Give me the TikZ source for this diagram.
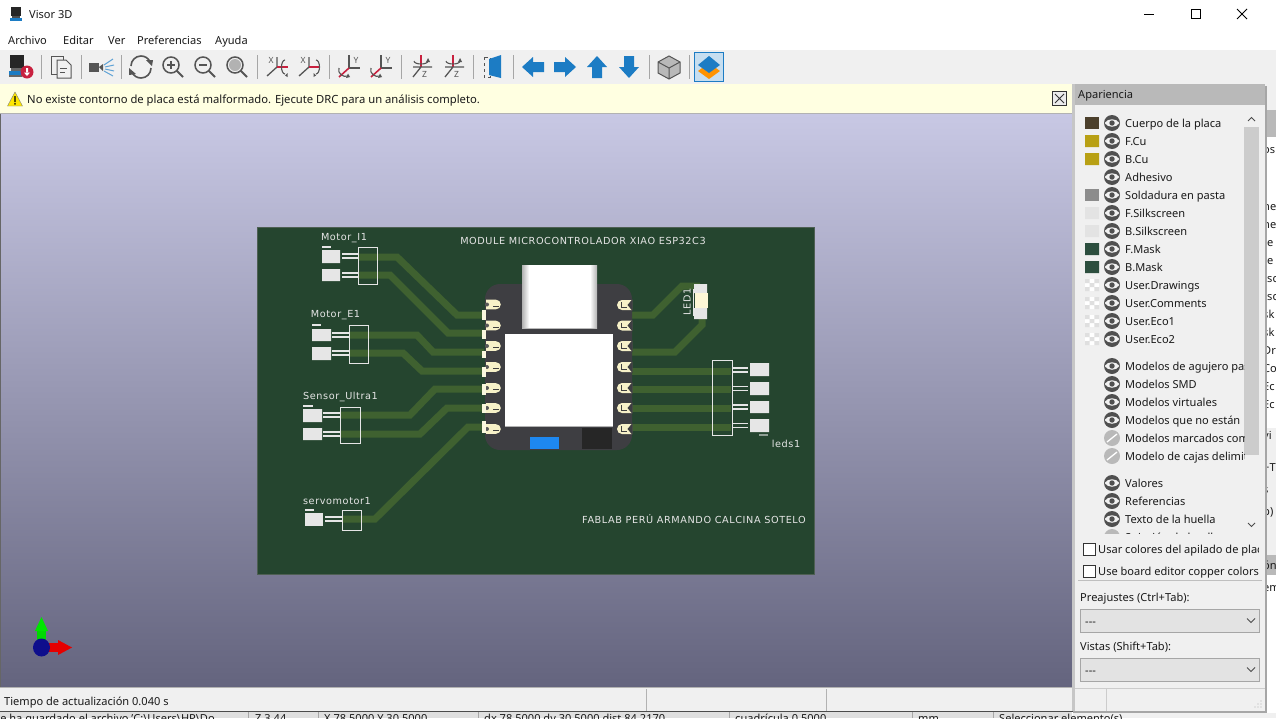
\documentclass[tikz,border=0pt]{standalone}
\usepackage{fontspec}
\setmainfont{Noto Sans}
\newfontfamily\silkfont[LetterSpace=6]{DejaVu Sans}
\usetikzlibrary{calc}
\definecolor{barbg}{HTML}{F0F0F0}
\definecolor{infobg}{HTML}{FFFFE1}
\definecolor{uitext}{HTML}{1A1A1A}
\definecolor{board}{HTML}{25452F}
\definecolor{trace}{HTML}{3F6130}
\definecolor{silk}{HTML}{E6E6E6}
\definecolor{module}{HTML}{3E3E42}
\definecolor{padc}{HTML}{F7F1C8}
\definecolor{iconblue}{HTML}{1C7CC4}
\definecolor{icongray}{HTML}{555555}
\definecolor{iconred}{HTML}{C8213F}
\definecolor{eyec}{HTML}{505050}
\definecolor{hdr}{HTML}{B9B9B9}
\definecolor{skytop}{RGB}{200,200,228}
\definecolor{skybot}{RGB}{100,100,126}
\definecolor{chipblue}{RGB}{30,136,240}
\definecolor{ledbody}{RGB}{253,247,214}
\definecolor{axisblue}{RGB}{14,14,140}
\definecolor{swbody}{RGB}{76,64,44}
\definecolor{swcu}{RGB}{184,160,20}
\definecolor{swmask}{RGB}{44,78,62}
\tikzset{
  ui/.style={anchor=west,inner sep=0pt,font=\fontsize{11.05}{12}\selectfont,text=uitext,text height=9.5pt,text depth=1.5pt},
  silktext/.style={inner sep=0pt,text=silk,font=\silkfont\fontsize{9.7}{10}\selectfont},
  icontext/.style={inner sep=0pt,font=\fontsize{8.5}{9}\selectfont,text=icongray},
  tr/.style={draw=trace,line width=7pt,line join=miter},
  silkline/.style={draw=silk,line width=1.1pt},
  silkpad/.style={fill=silk},
  sep/.style={draw=gray!70,line width=.7pt},
  bluearrow/.style={fill=iconblue},
  axisline/.style={draw=icongray,line width=1.3pt},
  redline/.style={draw=iconred,line width=1.6pt},
  rotline/.style={draw=icongray,line width=1.1pt},
}
% eye icon
\newcommand{\eyeicon}[1]{%
  \fill[eyec] (1112,#1) circle (8);
  \fill[barbg!90!white] (1104.5,#1) .. controls (1108,{#1-5}) and (1116,{#1-5}) .. (1119.5,#1) .. controls (1116,{#1+5}) and (1108,{#1+5}) .. (1104.5,#1) -- cycle;
  \fill[eyec] (1112,#1) circle (2.7);
}
\newcommand{\eyeoff}[1]{%
  \fill[gray!55] (1112,#1) circle (8);
  \draw[white,line width=1.3pt] (1107,{#1+4}) -- (1117,{#1-4});
}
\newcommand{\checker}[1]{%
  \fill[white] (1085,{#1-6}) rectangle (1099,{#1+6});
  \fill[gray!25] (1085,{#1-6}) rectangle +(4.7,4) (1094.4,{#1-6}) rectangle +(4.6,4) (1089.7,{#1-2}) rectangle +(4.7,4) (1085,{#1+2}) rectangle +(4.7,4) (1094.4,{#1+2}) rectangle +(4.6,4);
}
\newcommand{\lpad}[3]{% y, bar top, bar bottom
  \fill[padc] (486,{#1-4.8}) -- (496,{#1-4.8}) arc (-90:90:4.8) -- (486,{#1+4.8}) -- cycle;
  \fill[black!65] (487,#1) circle (2);
  \draw[black!75,line width=.9pt] (493,{#1+1.7}) -- (498.5,{#1+1.7});
  \fill[padc!60!white] (482,#2) rectangle (485.5,#3);
}
\newcommand{\rpad}[1]{%
  \fill[padc] (632,{#1-5}) -- (622,{#1-5}) arc (-90:-270:5) -- (632,{#1+5}) -- cycle;
  \draw[black!75,line width=1pt] (621.5,{#1-3}) -- (621.5,{#1+2}) -- (627,{#1+2});
  \fill[module] (632.5,{#1-6}) -- (627.5,#1) -- (632.5,{#1+6}) -- cycle;
}
\newcommand{\roticon}[2]{%
  \begin{scope}[shift={(#1,67)}]
    \draw[axisline] (0,-10) -- (0,0) -- (-10,9);
    \node[icontext] at (-6,-7) {X};
    \draw[redline] (0,0) -- (11,0);
    \ifnum#2=0
      \draw[rotline] (8,-7) arc (-90:-270:3.5 and 7);
      \fill[icongray] (8,8.5) -- (10.5,6) -- (10.5,10) -- cycle;
    \else
      \draw[rotline] (7,-7) arc (-90:90:3.5 and 7);
      \fill[icongray] (7,8.5) -- (4.5,6) -- (4.5,10) -- cycle;
    \fi
  \end{scope}
}
\newcommand{\roticonY}[1]{%
  \begin{scope}[shift={(#1,67)}]
    \draw[axisline] (0,-12) -- (0,1) -- (11,1);
    \node[icontext] at (7,-6.5) {Y};
    \draw[redline] (0,1) -- (-10,10);
    \draw[rotline] (-10,1) .. controls (-12,6) and (-6,11) .. (-1,9);
    \fill[icongray] (-1,6.5) -- (1,10) -- (-3,11) -- cycle;
  \end{scope}
}
\newcommand{\roticonZ}[1]{%
  \begin{scope}[shift={(#1,67)}]
    \draw[redline] (0,-12) -- (0,0);
    \draw[axisline] (-8,0) -- (11,0) (0,0) -- (-8,10);
    \draw[rotline] (-7,-6) arc (180:0:7 and 3);
    \fill[icongray] (7,-9) -- (9,-5) -- (5,-5) -- cycle;
    \node[icontext] at (3.5,7.5) {Z};
  \end{scope}
}
\begin{document}
\begin{tikzpicture}[x=1pt,y=-1pt,line cap=butt]
\useasboundingbox (0,0) rectangle (1276,718);
\fill[white] (0,0) rectangle (1276,718);

% ---- bars
\fill[barbg] (0,50) rectangle (1276,84);
\fill[infobg] (0,84) rectangle (1072,113);
\draw[gray!60,line width=.6pt] (0,113.5) -- (1072,113.5);
\shade[top color=skytop,bottom color=skybot] (1,114) rectangle (1072,687);
\draw[gray!80!black,line width=1pt] (.5,114) -- (.5,687);
\fill[barbg] (0,688) rectangle (1072,711);
\draw[gray!60,line width=.6pt] (0,687.6) -- (1072,687.6);
\draw[gray!60,line width=.6pt] (646,689) -- (646,711) (826,689) -- (826,711);

% ---- title bar
\fill[black!85] (11,7) rectangle (21,16);
\fill[black!70] (12,16) rectangle (20,18);
\fill[iconblue] (10,18) rectangle (22,21);
\node[ui] (title) at (29,14.5) {Visor 3D};
\draw[black,line width=.8pt] (1144,14) -- (1154,14);
\draw[black,line width=.9pt] (1191.5,9.5) rectangle (1200.5,18.5);
\draw[black,line width=.9pt] (1237,9) -- (1247,19) (1247,9) -- (1237,19);

% ---- menu
\node[ui] (mArchivo) at (8,40) {Archivo};
\node[ui] (mEditar) at (63,40) {Editar};
\node[ui] (mVer) at (108,40) {Ver};
\node[ui] (mPref) at (137,40) {Preferencias};
\node[ui] (mAyuda) at (215,40) {Ayuda};

% ---- toolbar separators
\foreach \x in {41,81,121,257,329,401,473,513,649,689} \draw[sep] (\x,55) -- (\x,79);

% toolbar icons
\fill[black!85] (10,55) rectangle (24,68);
\fill[black!60] (11,68) rectangle (23,71);
\fill[iconblue] (9,71) rectangle (22,75);
\fill[black!60] (9,75) rectangle (22,77);
\fill[iconred] (27,72) circle (6.5);
\fill[white] (26,68) rectangle (28,73) (24,72.5) -- (30,72.5) -- (27,76) -- cycle;
% copy
\draw[icongray,line width=1pt,fill=barbg] (51,56) rectangle (63,74);
\draw[icongray,line width=1pt,fill=barbg] (57,60) -- (66,60) -- (71,65) -- (71,78) -- (57,78) -- cycle;
\draw[icongray,line width=1pt] (60,68) -- (67,68) (60,72) -- (65,72);
% camera
\fill[icongray] (89,63) rectangle (99,72);
\fill[icongray] (99,67) -- (103,64) -- (103,71) -- cycle;
\draw[iconblue!70,line width=1pt] (104,65) -- (113,59) (105,67) -- (114,65) (105,69) -- (114,71) (104,71) -- (113,76);
% refresh
\draw[icongray,line width=1.6pt] (131,66) arc (180:330:10);
\draw[icongray,line width=1.6pt] (151,68) arc (0:150:10);
\fill[icongray] (146,60) -- (153,60) -- (152,66) -- cycle;
\fill[icongray] (129,68) -- (136,74) -- (129,75) -- cycle;
% zoom icons
\foreach \cx in {171,203,235} {
  \draw[icongray,line width=1.5pt] (\cx,65) circle (8);
  \draw[icongray,line width=2pt] (\cx+5.5,70.5) -- (\cx+12,77);
}
\draw[icongray,line width=1.3pt] (167,65) -- (175,65) (171,61) -- (171,69);
\draw[icongray,line width=1.3pt] (199,65) -- (207,65);
\fill[gray!60] (235,65) circle (6);
% rotation icons
\roticon{277}{0}
\roticon{309}{1}
\roticonY{349}
\roticonY{381}
\roticonZ{421}
\roticonZ{453}
% flip
\draw[icongray,line width=.9pt,dashed] (484,57) rectangle (490,77);
\fill[iconblue] (489,59) -- (501,55) -- (501,78) -- (489,75) -- cycle;
% arrows
\fill[bluearrow] (522,67) -- (533,57) -- (533,62) -- (544,62) -- (544,72) -- (533,72) -- (533,77) -- cycle;
\fill[bluearrow] (576,67) -- (565,57) -- (565,62) -- (554,62) -- (554,72) -- (565,72) -- (565,77) -- cycle;
\fill[bluearrow] (597,56) -- (607,67) -- (602,67) -- (602,78) -- (592,78) -- (592,67) -- (587,67) -- cycle;
\fill[bluearrow] (629,78) -- (639,67) -- (634,67) -- (634,56) -- (624,56) -- (624,67) -- (619,67) -- cycle;
% cube
\fill[gray!55] (669,56) -- (680,62) -- (680,73) -- (669,79) -- (658,73) -- (658,62) -- cycle;
\draw[icongray,line width=1pt] (669,56) -- (680,62) -- (680,73) -- (669,79) -- (658,73) -- (658,62) -- cycle (658,62) -- (669,68) -- (680,62) (669,68) -- (669,79);
% layers (active)
\draw[iconblue,fill=iconblue!25,line width=1pt] (694.5,52.5) rectangle (723.5,81.5);
\fill[orange!85!yellow] (709,63) -- (720,71) -- (709,79) -- (698,71) -- cycle;
\fill[iconblue] (709,56) -- (720,65) -- (709,73) -- (698,65) -- cycle;

% ---- info bar
\fill[yellow!90!orange] (15,92) -- (22.5,106) -- (7.5,106) -- cycle;
\draw[black!50,line width=.4pt] (15,92) -- (22.5,106) -- (7.5,106) -- cycle;
\fill[black] (14.3,96) rectangle (15.7,102) (14.3,103) rectangle (15.7,104.5);
\node[ui,font=\fontsize{11.25}{12}\selectfont] (warn) at (27,99) {No existe contorno de placa está malformado. Ejecute DRC para un análisis completo.};
\draw[black!80,fill=gray!15,line width=1pt] (1052.5,91.5) rectangle (1066.5,105.5);
\draw[black!80,line width=1pt] (1055,94) -- (1064,103) (1064,94) -- (1055,103);

% ---- board
\fill[board] (257,227) rectangle (814,574.5);
\draw[gray!45!board,line width=.7pt] (257,227) rectangle (814,574.5);

% traces
\draw[tr] (358,257) -- (397,257) -- (457,315) -- (484,315);
\draw[tr] (358,275) -- (390,275) -- (448,333) -- (484,333);
\draw[tr] (349,335) -- (417,335) -- (433,352) -- (484,352);
\draw[tr] (349,353) -- (403,353) -- (422,371) -- (484,371);
\draw[tr] (340,415) -- (410,415) -- (435,389) -- (484,389);
\draw[tr] (340,434) -- (420,434) -- (447,408) -- (484,408);
\draw[tr] (342,519) -- (375,519) -- (468,427) -- (484,427);
\draw[tr] (632,315) -- (653,315) -- (682,286) -- (700,286);
\draw[tr] (632,352) -- (675,352) -- (702,325) -- (702,316);
\foreach \y in {371,389,408,427} \draw[tr] (632,\y) -- (731,\y);

% module
\fill[module,rounded corners=15pt] (485,284) -- (632,284) -- (632,450) -- (485,450) -- cycle;
\lpad{304.5}{310}{320}
\lpad{325.5}{330}{339}
\lpad{346}{351}{358}
\lpad{367}{367}{377}
\lpad{388}{384}{395}
\lpad{408}{404}{413}
\lpad{429}{421}{433}
\foreach \y in {305,325.5,346,367,388,408,429} {\rpad{\y}}
% USB
\fill[white] (522,265) rectangle (597,328);
\shade[left color=gray!60,right color=white] (522,265) rectangle (529,328);
\shade[left color=white,right color=gray!60] (590,265) rectangle (597,328);
\fill[gray!55] (522,327.5) rectangle (597,329);
% shield
\fill[white] (505,334) rectangle (613,426);
\fill[gray!60] (505,426) rectangle (613,426.8);
\fill[chipblue] (530,437) rectangle (559,449);
\fill[black!85] (582,428) rectangle (612,449);

% connectors: silkscreen
% Motor_I1
\fill[silkpad] (322,250) rectangle (340,263) (322,269) rectangle (340,281);
\draw[silkline] (342,254) -- (358,254) (342,258) -- (358,258) (342,273) -- (358,273) (342,277) -- (358,277);
\draw[silkline,line width=1pt] (358.5,247) rectangle (377,284);
\draw[silkline] (322,247) -- (331,247);
\node[silktext] (lbI) at (344,238) {Motor\_I1};
% Motor_E1
\fill[silkpad] (312,329) rectangle (331,341) (312,347) rectangle (331,360);
\draw[silkline] (332,333) -- (349,333) (332,337) -- (349,337) (332,351) -- (349,351) (332,355) -- (349,355);
\draw[silkline,line width=1pt] (349.5,325) rectangle (368,363);
\draw[silkline] (312,325) -- (321,325);
\node[silktext] (lbE) at (335.5,315) {Motor\_E1};
% Sensor
\fill[silkpad] (303,409) rectangle (322,422) (303,428) rectangle (322,440);
\draw[silkline] (323,413) -- (340,413) (323,417) -- (340,417) (323,432) -- (340,432) (323,436) -- (340,436);
\draw[silkline,line width=1pt] (340.5,407) rectangle (360,443);
\draw[silkline] (303,406) -- (313,406);
\node[silktext] (lbS) at (340.5,397) {Sensor\_Ultra1};
% servo
\fill[silkpad] (305,513) rectangle (323,526);
\draw[silkline] (325,517) -- (342,517) (325,521) -- (342,521);
\draw[silkline,line width=1pt] (342,510.5) rectangle (361,530);
\draw[silkline] (305,510) -- (314,510);
\node[silktext] (lbV) at (337,501) {servomotor1};
% leds
\draw[silkline,line width=1pt] (712.5,360.5) rectangle (732,435);
\fill[silkpad] (750,363) rectangle (769,376) (750,382) rectangle (769,395) (750,401) rectangle (769,413) (750,419) rectangle (769,432);
\foreach \y in {370,388.5,407,425.5} \draw[silkline] (732,\y-2) -- (748,\y-2) (732,\y+2) -- (748,\y+2);
\draw[silkline,draw=silk!55!board] (759,435) -- (768,435);
\node[silktext] (lbL) at (786,444) {leds1};
% LED
\fill[silk] (694,284) rectangle (707,293) (694,308) rectangle (707,319);
\fill[ledbody] (695,293) rectangle (708,308);
\draw[silkline,line width=.7pt] (693,289) -- (693,316);
\node[silktext,rotate=90] (lbLED) at (687,302) {LED1};
% board texts
\node[silktext] (brdTitle) at (583,241) {MODULE MICROCONTROLADOR XIAO ESP32C3};
\node[silktext] (brdAuthor) at (694,519) {FABLAB PERÚ ARMANDO CALCINA SOTELO};

% ---- axes
\fill[green!85!black] (37,628) rectangle (46,645);
\fill[green!90!black] (41.5,617) -- (48,631) -- (35,631) -- cycle;
\fill[red!90!black] (48,643) rectangle (60,652);
\fill[red!90!black] (72,647.5) -- (58,640) -- (58,655) -- cycle;
\fill[axisblue] (41.5,647.5) ellipse (8.5 and 9);

% ---- right margin background
\fill[white] (1265,84) rectangle (1276,711);
\fill[barbg] (1265,84) rectangle (1276,110);
\fill[gray!55] (1265,110) rectangle (1276,137);
\fill[gray!55] (1265,555) rectangle (1276,575);
\fill[barbg] (1265,428) rectangle (1276,555);
\begin{scope}
\clip (1267,137) rectangle (1276,711);
\foreach \y/\t in {149/os,206/he,224/he,242/te,260/te,278/tsc,296/tsc,314/sk,332/sk,350/Dr,368/Co,386/Ec,404/Ec,435/vi,467/+T,489/s,511/b),565/ón,587/em}
  \node[ui,anchor=west] at (1263,\y) {\t};
\end{scope}

% ---- appearance panel
\fill[black!35] (1265,86) rectangle (1267,713);
\fill[black!35] (1073,711) rectangle (1267,713);
\fill[gray!45] (1072,84) rectangle (1075,711);
\fill[barbg] (1075,84) rectangle (1265,711);
\fill[hdr] (1075,84) rectangle (1265,105);
\node[ui] (panelHead) at (1078,94) {Apariencia};
% scrollbar
\fill[gray!12] (1244,110) rectangle (1259,533);
\fill[gray!40] (1244,127) rectangle (1259,455);
\draw[black!70,line width=1pt] (1248,121) -- (1251.5,117.5) -- (1255,121);
\draw[black!70,line width=1pt] (1248,523) -- (1251.5,526.5) -- (1255,523);
% swatches
\fill[swbody] (1085,117) rectangle (1099,129);
\fill[swcu] (1085,135) rectangle (1099,147) (1085,153) rectangle (1099,165);
\fill[gray!90] (1085,189) rectangle (1099,201);
\fill[gray!22] (1085,207) rectangle (1099,219) (1085,225) rectangle (1099,237);
\fill[swmask] (1085,243) rectangle (1099,255) (1085,261) rectangle (1099,273);
\foreach \y in {285,303,321,339} {\checker{\y}}
% eye icons
\foreach \y in {123,141,159,177,195,213,231,249,267,285,303,321,339,366,384,402,420,483,501,519} {\eyeicon{\y}}
\eyeoff{438}
\eyeoff{456}
\begin{scope}
\clip (1076,110) rectangle (1244,533);
\foreach \n/\y/\t in {a/123/Cuerpo de la placa,b/141/F.Cu,c/159/B.Cu,d/177/Adhesivo,e/195/Soldadura en pasta,f/213/F.Silkscreen,g/231/B.Silkscreen,h/249/F.Mask,i/267/B.Mask,j/285/User.Drawings,k/303/User.Comments,l/321/User.Eco1,m/339/User.Eco2,n/366/Modelos de agujero pasante,o/384/Modelos SMD,p/402/Modelos virtuales,q/420/Modelos que no están,r/438/Modelos marcados como,s/456/Modelo de cajas delimitadoras,t/483/Valores,u/501/Referencias,v/519/Texto de la huella}
  \node[ui] (row\n) at (1125,\y) {\t};
\fill[gray!55] (1112,537) circle (8);
\node[ui] (rowz) at (1125,537) {Sujeción de huella};
\end{scope}
% checks
\draw[black!80,fill=white,line width=.8pt] (1083.5,543.5) rectangle (1095.5,555.5);
\draw[black!80,fill=white,line width=.8pt] (1083.5,565.5) rectangle (1095.5,577.5);
\begin{scope}
\clip (1096,540) rectangle (1258,580);
\node[ui] (chkA) at (1098,549) {Usar colores del apilado de placa};
\node[ui] (chkB) at (1098,571) {Use board editor copper colors};
\end{scope}
\draw[gray!50,line width=.6pt] (1078,580.5) -- (1262,580.5);
\node[ui] (lblP) at (1080,597) {Preajustes (Ctrl+Tab):};
\draw[gray!70,fill=gray!22,line width=.8pt] (1080.5,609.5) rectangle (1259.5,632.5);
\node[ui] (cmbP) at (1085,621) {-{}-{}-};
\draw[black!70,line width=.9pt] (1247,618.5) -- (1251,622.5) -- (1255,618.5);
\node[ui] (lblV) at (1080,646) {Vistas (Shift+Tab):};
\draw[gray!70,fill=gray!22,line width=.8pt] (1080.5,658.5) rectangle (1259.5,681.5);
\node[ui] (cmbV) at (1085,670) {-{}-{}-};
\draw[black!70,line width=.9pt] (1247,667.5) -- (1251,671.5) -- (1255,667.5);
\draw[gray!40,line width=.6pt] (1075,688.5) -- (1265,688.5) (1106,689) -- (1106,711);
\foreach \p in {(1261,707),(1258,707),(1255,707),(1261,704),(1258,704),(1261,701)} \fill[gray!60] \p circle (.7);

% ---- status bar
\node[ui] (status) at (4,701) {Tiempo de actualización 0.040 s};
\fill[gray!25] (0,711) rectangle (1072,718);
\fill[barbg] (1073,713) rectangle (1276,718);
\draw[black!70,line width=.8pt] (0,711.4) -- (1073,711.4);
\begin{scope}
\clip (0,712) rectangle (1276,718);
\foreach \x/\t in {-6/Se ha guardado el archivo 'C:\textbackslash Users\textbackslash HP\textbackslash Do,255/Z 3.44,324/X 78.5000  Y 30.5000,484/dx 78.5000  dy 30.5000  dist 84.2170,735/cuadrícula 0.5000,918/mm,999/Seleccionar elemento(s)}
  \node[ui] at (\x,718) {\t};
\foreach \x in {248,318,478,729,912,993} \draw[gray!70,line width=.6pt] (\x,712) -- (\x,718);
\end{scope}
\end{tikzpicture}
\end{document}
